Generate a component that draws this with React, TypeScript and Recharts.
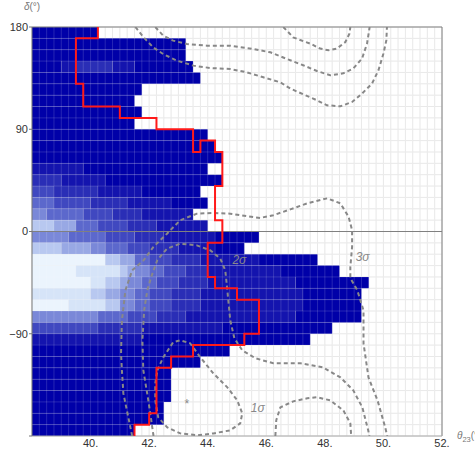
import { ScatterChart, Scatter, XAxis, YAxis, ReferenceArea, ReferenceLine, CartesianGrid } from 'recharts'

// shade levels: 0 = deep blue ... 9 = near white
const shadeColors = [
  '#0000a8', '#1414ae', '#2a2eb6', '#4048c0', '#5c68cc',
  '#7a88d8', '#98a8e4', '#b8c8f0', '#d6e4f8', '#ebf4fd',
]

// one row per 10 deg of delta, from 180 down to -180
const rowEdge = [
  40.25, 43.25, 43.25, 43.5, 43.75, 41.75, 41.5, 41.75, 41.5, 44,
  44.25, 44.5, 44, 44.5, 43.75, 44, 43.5, 44, 45.75, 45.25,
  47.75, 48.5, 49.5, 49.25, 49.25, 49.25, 48.25, 47.5, 44.75, 43.75,
  42.75, 42.75, 42.75, 42.5, 42.5, 41.5,
]

// shade codes per 0.25 deg column starting at theta = 38 (missing = 0)
const rowShades = [
  '', '', '', '00001122222111', '', '', '', '', '', '',
  '', '', '1111111', '2222111111', '333222222111111', '4443333322222111111',
  '5544444333322221111111', '777666444333322221111111',
  '5555544444333322221111111', '7777666655444333222211111',
  '9999999999776644333222211111111', '9999998888887655443332221111111111',
  '999999998877655443332222111111111111', '8888888877665544333222211111111111111',
  '9999988888775544333222211111111111111', '555555555444433332222111111111111111',
  '33333333322222211111111111', '111111111111111',
  '', '', '', '', '', '', '', '',
]

const redBoundary = [
  [40.25, 180], [40.25, 170], [39.5, 170], [39.5, 130], [39.75, 130], [39.75, 110],
  [41, 110], [41, 100], [42.25, 100], [42.25, 90], [43.5, 90], [43.5, 70],
  [43.75, 70], [43.75, 80], [44.25, 80], [44.25, 70], [44.5, 70], [44.5, 40],
  [44.25, 40], [44.25, 10], [44.5, 10], [44.5, -10], [44, -10], [44, -40],
  [44.25, -40], [44.25, -50], [45, -50], [45, -60], [45.75, -60], [45.75, -90],
  [45.25, -90], [45.25, -100], [43.5, -100], [43.5, -110], [42.75, -110], [42.75, -120],
  [42.25, -120], [42.25, -160], [42, -160], [42, -170], [41.5, -170], [41.5, -180],
]

const contourTopInner = [
  [46.58, 180], [46.92, 170.9], [47.16, 168.5], [47.5, 165.4], [47.84, 161], [48.13, 159.5],
  [48.41, 161], [48.7, 166.8], [48.84, 174.2], [48.87, 180],
]
const contourTopMid = [
  [42.21, 180], [42.48, 172.4], [42.82, 168], [43.29, 165], [43.97, 163.6], [44.77, 163.6],
  [45.56, 160.6], [46.14, 157.7], [46.71, 151.8], [47.26, 146.3], [47.73, 141.3], [48.18, 137.5],
  [48.63, 139.2], [48.97, 143.4], [49.27, 152.2], [49.44, 165.4], [49.53, 180],
]
const contourTopOuter = [
  [41.53, 180], [41.81, 170.9], [42.14, 162.1], [42.48, 156.2], [42.95, 150.4], [43.51, 146],
  [44.09, 143.9], [44.77, 143], [45.34, 140.1], [45.9, 135.7], [46.48, 131.3], [46.82, 125.8],
  [47.26, 120.8], [47.73, 115.5], [48.07, 111.1], [48.53, 110.2], [48.93, 114], [49.27, 121.4],
  [49.61, 130.2], [49.83, 141.9], [50, 156.6], [50.1, 168.3], [50.12, 180],
]
const contour3s = [
  [41.42, -180], [41.36, -172.4], [41.12, -142.5], [41.07, -122.2], [41.04, -107.2], [41.07, -78.2],
  [41.19, -51.8], [41.42, -34.2], [41.81, -25.4], [42.14, -13.7], [42.61, -1.9], [43.06, 9.9],
  [43.63, 15.7], [44.19, 16.3], [44.77, 15.7], [45.79, 11.9], [46.24, 14.3], [46.82, 19.5],
  [47.4, 24.8], [48.08, 29.2], [48.53, 24.8], [48.81, 13], [48.93, 1.2], [48.93, -13.5],
  [48.87, -31.3], [48.87, -41], [49.11, -51.9], [49.32, -69.5], [49.32, -98.5], [49.49, -128.5],
  [49.8, -148.7], [50.06, -172.4], [50.13, -180],
]
const contour2s = [
  [42.15, -180], [41.97, -148.3], [41.8, -121.9], [41.77, -95.5], [41.83, -69.1], [41.94, -51.5],
  [42.07, -40.1], [42.28, -25.1], [42.61, -15.1], [43.06, -10.7], [43.63, -12.2], [44.09, -16.6],
  [44.43, -23.9], [44.6, -34.2], [44.67, -51.8], [44.77, -78.2], [44.91, -94], [45.18, -104.6],
  [45.63, -111.6], [46.24, -116], [47.16, -116], [47.94, -119.6], [48.53, -128.4], [48.97, -139.8],
  [49.28, -154.8], [49.48, -175], [49.52, -180],
]
const contour1s = [
  [42.28, -122.2], [42.48, -110.8], [42.82, -97.5], [43.06, -95.8], [43.4, -98.4], [43.75, -110.8],
  [44.19, -124.8], [44.67, -137.2], [45.01, -148.7], [45.18, -160.1], [45.11, -168.9], [44.77, -175],
  [44.19, -177.7], [43.65, -179.4], [43.06, -177.7], [42.62, -172.4], [42.31, -163.6], [42.21, -148.7],
  [42.21, -133.7], [42.28, -122.2],
]
const contour1sRight = [
  [46.31, -180], [46.34, -166.2], [46.48, -154.8], [46.92, -149.5], [47.4, -146.8], [47.74, -145.9],
  [48.18, -148.6], [48.63, -157.4], [48.87, -168.8], [48.9, -180],
]

const contourLabels = [
  { x: 45.08, y: -24.5, text: '2σ' },
  { x: 49.29, y: -22.7, text: '3σ' },
  { x: 45.71, y: -155.6, text: '1σ' },
  { x: 43.27, y: -151.5, text: '*' },
]

const xTicks = [40, 42, 44, 46, 48, 50, 52]
const yTicks = [-180, -90, 0, 90, 180]

const toPts = (arr: number[][]) => arr.map(([x, y]) => ({ x, y }))

const gridX: number[] = []
for (let v = 38.25; v < 52; v += 0.25) gridX.push(v)
const gridY: number[] = []
for (let v = -170; v < 180; v += 10) if (v !== 0) gridY.push(v)

const cells = rowEdge.flatMap((edge, r) => {
  const n = Math.round((edge - 38) / 0.25)
  const lvl = (i: number) => Number(rowShades[r][i] ?? '0')
  const runs: { x1: number; x2: number; y1: number; y2: number; level: number }[] = []
  let start = 0
  for (let i = 1; i <= n; i++) {
    if (i === n || lvl(i) !== lvl(start)) {
      runs.push({ x1: 38 + start * 0.25, x2: 38 + i * 0.25, y1: 170 - 10 * r, y2: 180 - 10 * r, level: lvl(start) })
      start = i
    }
  }
  return runs
})

const dashed = { stroke: '#888', strokeWidth: 2, strokeDasharray: '4 3' }
const noDot = () => <g />

function LabelText(props: any) {
  const { cx, cy } = props
  const text = props.payload?.text ?? props.text
  return (
    <text x={cx} y={cy} dy="0.35em" textAnchor="middle" fontSize={12} fill="#888" fontStyle="italic">
      {text}
    </text>
  )
}

function DeltaTitle(props: any) {
  const { x, y, width } = props.viewBox
  return (
    <text x={x + width} y={y - 17} textAnchor="middle" fontSize={10} fill="#777">
      <tspan fontStyle="italic">δ</tspan>(°)
    </text>
  )
}

function ThetaTitle(props: any) {
  const { x, y, width } = props.viewBox
  return (
    <text x={x + width + 15} y={y + 3} fontSize={10} fill="#777">
      <tspan fontStyle="italic">θ</tspan>
      <tspan fontSize={7.5} dy={3}>23</tspan>
      <tspan dy={-3}>(°)</tspan>
    </text>
  )
}

export default function App() {
  return (
    <div style={{ position: 'absolute', left: 0, top: 0, fontFamily: '"Liberation Sans", Arial, sans-serif' }}>
      <ScatterChart width={475} height={454} margin={{ top: 27, right: 33, bottom: 0, left: 0 }}>
        <CartesianGrid xAxisId="grid" yAxisId="grid" stroke="#e6e6e6" strokeDasharray="" />
        <XAxis xAxisId="grid" type="number" dataKey="x" domain={[38, 52]} ticks={gridX} interval={0} allowDataOverflow hide />
        <YAxis yAxisId="grid" type="number" dataKey="y" domain={[-180, 180]} ticks={gridY} interval={0} allowDataOverflow hide />
        {cells.map((c, i) => (
          <ReferenceArea
            key={`c${i}`}
            x1={c.x1}
            x2={c.x2}
            y1={c.y1}
            y2={c.y2}
            fill={shadeColors[c.level]}
            fillOpacity={1}
            stroke="none"
            zIndex={100}
          />
        ))}
        {gridX.map((v) => (
          <ReferenceLine key={`ox${v}`} x={v} stroke="#ffffff" strokeOpacity={0.15} strokeWidth={1} zIndex={150} />
        ))}
        {gridY.map((v) => (
          <ReferenceLine key={`oy${v}`} y={v} stroke="#ffffff" strokeOpacity={0.15} strokeWidth={1} zIndex={150} />
        ))}
        <ReferenceLine y={0} stroke="#808080" strokeWidth={1} zIndex={160} />
        <ReferenceLine y={180} stroke="#808080" strokeWidth={1} zIndex={160} />
        <ReferenceLine x={52} stroke="#808080" strokeWidth={1} zIndex={160} />
        <XAxis
          type="number"
          dataKey="x"
          domain={[38, 52]}
          ticks={xTicks}
          allowDataOverflow
          height={18}
          tickSize={2}
          tickMargin={1}
          tickLine={false}
          axisLine={{ stroke: '#aaa' }}
          tick={{ fill: '#333', fontSize: 11 }}
          tickFormatter={(v: number) => `${v}.`}
          label={<ThetaTitle />}
        />
        <YAxis
          type="number"
          dataKey="y"
          domain={[-180, 180]}
          ticks={yTicks}
          allowDataOverflow
          width={32}
          tickSize={3}
          tickMargin={1}
          axisLine={{ stroke: '#777' }}
          tickLine={{ stroke: '#777' }}
          tick={{ fill: '#333', fontSize: 11 }}
          tickFormatter={(v: number) => (v === -180 ? '' : v < 0 ? `−${-v}` : `${v}`)}
          label={<DeltaTitle />}
        />
        {[contourTopInner, contourTopMid, contourTopOuter, contour3s, contour2s, contour1s, contour1sRight].map((c, i) => (
          <Scatter key={`ct${i}`} data={toPts(c)} line={dashed} shape={noDot} isAnimationActive={false} />
        ))}
        <Scatter
          data={toPts(redBoundary)}
          line={{ stroke: '#ff1a1a', strokeWidth: 2 }}
          shape={noDot}
          isAnimationActive={false}
        />
        <Scatter data={contourLabels} shape={<LabelText />} isAnimationActive={false} />
      </ScatterChart>
    </div>
  )
}
